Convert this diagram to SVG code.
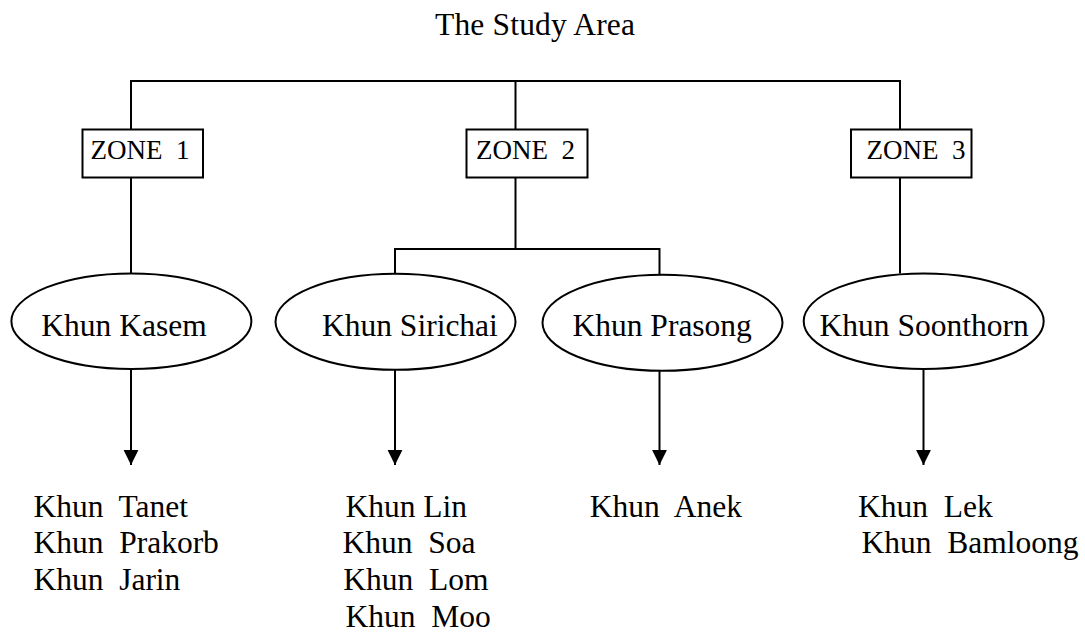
<svg xmlns="http://www.w3.org/2000/svg" width="1085" height="633" viewBox="0 0 1085 633">
<style>
text{font-family:"Liberation Serif","Times New Roman",serif;fill:#000;white-space:pre}
.t{font-size:31.5px}
.z{font-size:27px}
.box{fill:#fff;stroke:#000;stroke-width:2}
.ell{fill:#fff;stroke:#000;stroke-width:2}
.ln{fill:none;stroke:#000;stroke-width:2}
</style>
<defs>
<marker id="ah" markerUnits="userSpaceOnUse" markerWidth="16" markerHeight="16" viewBox="0 0 16 16" refX="15" refY="8" orient="auto">
<path d="M0,0.6 L15,8 L0,15.4 Z" fill="#000"/>
</marker>
</defs>
<rect width="1085" height="633" fill="#fff"/>
<text id="title" class="t" x="435" y="35" textLength="200">The Study Area</text>
<g id="connectors">
<path class="ln" d="M131,129.5 V81 H900 V129.5 M515.5,81 V129.5"/>
<path class="ln" d="M131,177.5 V273.5"/>
<path class="ln" d="M900,177.5 V273.5"/>
<path class="ln" d="M515.5,177.5 V249 M395,274 V249 H659.5 V275"/>
<path class="ln" d="M131,369 V465" marker-end="url(#ah)"/>
<path class="ln" d="M395,370 V465" marker-end="url(#ah)"/>
<path class="ln" d="M659.5,371 V465" marker-end="url(#ah)"/>
<path class="ln" d="M923.5,369 V465" marker-end="url(#ah)"/>
</g>
<g id="zone1">
<rect class="box" x="82.5" y="129.5" width="120.5" height="48"/>
<text class="z" x="90.5" y="159" xml:space="preserve">ZONE  1</text>
</g>
<g id="zone2">
<rect class="box" x="466.5" y="129.5" width="121" height="48"/>
<text class="z" x="476" y="159" xml:space="preserve">ZONE  2</text>
</g>
<g id="zone3">
<rect class="box" x="851" y="129.5" width="120.5" height="48"/>
<text class="z" x="866.5" y="159" xml:space="preserve">ZONE  3</text>
</g>
<g id="kasem">
<ellipse class="ell" cx="131.4" cy="321.2" rx="120" ry="47.8"/>
<text class="t" x="41.3" y="336">Khun Kasem</text>
</g>
<g id="sirichai">
<ellipse class="ell" cx="395.5" cy="321.8" rx="120" ry="48"/>
<text class="t" x="322" y="336">Khun Sirichai</text>
</g>
<g id="prasong">
<ellipse class="ell" cx="662.5" cy="322.8" rx="120" ry="48"/>
<text class="t" x="572.5" y="336">Khun Prasong</text>
</g>
<g id="soonthorn">
<ellipse class="ell" cx="923.7" cy="321.2" rx="120" ry="47.8"/>
<text class="t" x="819.6" y="336">Khun Soonthorn</text>
</g>
<g id="list1">
<text class="t" x="33.4" y="517.3" xml:space="preserve">Khun  Tanet</text>
<text class="t" x="33.4" y="552.7" xml:space="preserve">Khun  Prakorb</text>
<text class="t" x="33.4" y="590" xml:space="preserve">Khun  Jarin</text>
</g>
<g id="list2">
<text class="t" x="345.4" y="517.3">Khun Lin</text>
<text class="t" x="342.6" y="552.7" xml:space="preserve">Khun  Soa</text>
<text class="t" x="343.3" y="590" xml:space="preserve">Khun  Lom</text>
<text class="t" x="345.4" y="626.5" xml:space="preserve">Khun  Moo</text>
</g>
<g id="list3">
<text class="t" x="589.7" y="517.3" xml:space="preserve">Khun  Anek</text>
</g>
<g id="list4">
<text class="t" x="858" y="517.3" xml:space="preserve">Khun  Lek</text>
<text class="t" x="861.5" y="552.7" xml:space="preserve">Khun  Bamloong</text>
</g>
</svg>
